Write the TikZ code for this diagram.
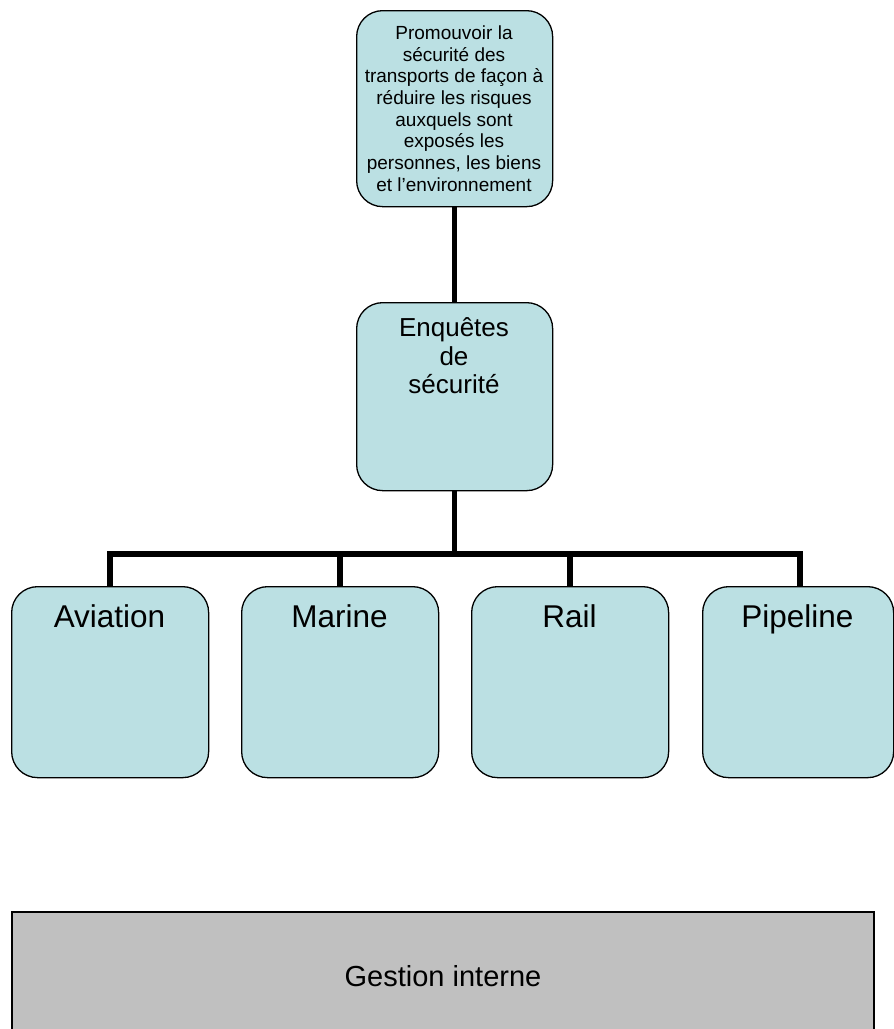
\documentclass[tikz,border=0pt]{standalone}
\usepackage{fontspec}
\setmainfont{Liberation Sans}
\definecolor{boxfill}{HTML}{BBE0E3}
\definecolor{grayfill}{HTML}{C0C0C0}
\begin{document}
\begin{tikzpicture}[x=1pt,y=-1pt,
  orgbox/.style={draw=black, line width=1.3pt, fill=boxfill, rounded corners=26pt,
    minimum width=196pt, inner sep=0pt, anchor=north west},
  conn/.style={line width=5.5pt, line join=miter, draw=black},
  small/.style={font=\fontsize{19}{21.7}\selectfont, align=center, inner sep=0pt},
  mid/.style={font=\fontsize{26}{28.6}\selectfont, align=center, inner sep=0pt},
  big/.style={font=\fontsize{31.5}{34}\selectfont, inner sep=0pt, anchor=base}
]
\useasboundingbox (0,0) rectangle (894,1029);

% boxes
\node[orgbox, minimum height=196pt] (top) at (356,10) {};
\node[orgbox, minimum height=188pt] (enq) at (356,302) {};
\node[orgbox, minimum width=197pt, minimum height=191pt] (av) at (11,586) {};
\node[orgbox, minimum width=197pt, minimum height=191pt] (mar) at (241,586) {};
\node[orgbox, minimum width=197pt, minimum height=191pt] (rail) at (471,586) {};
\node[orgbox, minimum width=191pt, minimum height=191pt] (pipe) at (702,586) {};

\node[draw=black, line width=1.5pt, fill=grayfill, minimum width=862pt,
  minimum height=128pt, inner sep=0pt, font=\fontsize{29}{32}\selectfont]
  (gest) at (443,976) {Gestion interne};

% texts
\node[small, anchor=north] (toptxt) at (454,25.5)
  {Promouvoir la\\sécurité des\\transports de façon à\\réduire les risques\\auxquels sont\\exposés les\\personnes, les biens\\et l’environnement};
\node[mid, anchor=north] (enqtxt) at (454,317.5) {Enquêtes\\de\\sécurité};
\node[big] (avtxt) at (109.5,627) {Aviation};
\node[big] (martxt) at (339.5,627) {Marine};
\node[big] (railtxt) at (569.5,627) {Rail};
\node[big] (pipetxt) at (797.5,627) {Pipeline};

% connectors
\coordinate (bus) at (455,554);
\coordinate (avc) at (110,586);
\coordinate (marc) at (340,586);
\coordinate (railc) at (570,586);
\coordinate (pipec) at (800,586);
\draw[conn] (top.south) -- (enq.north);
\draw[conn] (enq.south) -- (enq.south |- bus);
\draw[conn] (avc) |- (bus) -| (pipec);
\draw[conn] (marc) -- (marc |- bus);
\draw[conn] (railc) -- (railc |- bus);
\end{tikzpicture}
\end{document}
